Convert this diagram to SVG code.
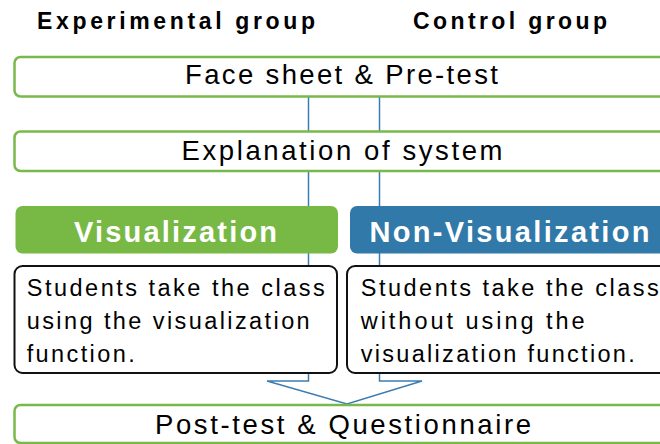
<svg xmlns="http://www.w3.org/2000/svg" width="660" height="444" viewBox="0 0 660 444">
  <style>
    .stage { fill: #ffffff; stroke: #79b84b; stroke-width: 2.5; }
    .desc { fill: #ffffff; stroke: #111111; stroke-width: 2; }
    .head { font-family: "Liberation Sans", Arial, sans-serif; font-weight: bold; font-size: 23px; fill: #000000; }
    .stageText { font-family: "Liberation Sans", Arial, sans-serif; font-size: 27.5px; fill: #000000; }
    .groupText { font-family: "Liberation Sans", Arial, sans-serif; font-weight: bold; font-size: 29px; fill: #ffffff; }
    .descText { font-family: "Liberation Sans", Arial, sans-serif; font-size: 23.5px; fill: #000000; }
    .link { fill: none; stroke: #3b7db3; stroke-width: 1.5; }
  </style>

  <!-- column headings -->
  <g id="heading-experimental">
    <text class="head" x="37" y="28.5" textLength="278" lengthAdjust="spacing">Experimental group</text>
  </g>
  <g id="heading-control">
    <text class="head" x="413" y="28.5" textLength="194" lengthAdjust="spacing">Control group</text>
  </g>

  <!-- flow lines for the two groups -->
  <g id="connectors">
    <line class="link" x1="308.5" y1="96" x2="308.5" y2="373"/>
    <line class="link" x1="379.5" y1="96" x2="379.5" y2="373"/>
    <path class="link" d="M308.5,373 V381 H267 L347,404 L422,381 H379.5 V373"/>
  </g>

  <g id="face-sheet">
    <rect class="stage" x="14.5" y="57" width="660" height="39.5" rx="6"/>
    <text class="stageText" x="185" y="84" textLength="313" lengthAdjust="spacing">Face sheet &amp; Pre-test</text>
  </g>

  <g id="explanation">
    <rect class="stage" x="14.5" y="131.5" width="660" height="39.5" rx="6"/>
    <text class="stageText" x="181.5" y="159.5" textLength="321" lengthAdjust="spacing">Explanation of system</text>
  </g>

  <g id="visualization">
    <rect x="15.5" y="206" width="322.5" height="47.5" rx="7" fill="#78b946"/>
    <text class="groupText" x="74" y="241.5" textLength="203" lengthAdjust="spacing">Visualization</text>
  </g>

  <g id="non-visualization">
    <rect x="350" y="206" width="330" height="47.5" rx="7" fill="#3179a9"/>
    <text class="groupText" x="369.5" y="241.5" textLength="280" lengthAdjust="spacing">Non-Visualization</text>
  </g>

  <g id="class-with-visualization">
    <rect class="desc" x="14.5" y="266" width="322.5" height="107" rx="8"/>
    <text class="descText" x="26.7" y="295.7" textLength="298" lengthAdjust="spacing">Students take the class</text>
    <text class="descText" x="26.7" y="329" textLength="283" lengthAdjust="spacing">using the visualization</text>
    <text class="descText" x="26.7" y="362.3" textLength="108" lengthAdjust="spacing">function.</text>
  </g>

  <g id="class-without-visualization">
    <rect class="desc" x="347" y="266" width="330" height="107" rx="8"/>
    <text class="descText" x="360.7" y="295.7" textLength="298" lengthAdjust="spacing">Students take the class</text>
    <text class="descText" x="360.7" y="329" textLength="224" lengthAdjust="spacing">without using the</text>
    <text class="descText" x="360.7" y="362.3" textLength="274" lengthAdjust="spacing">visualization function.</text>
  </g>

  <g id="post-test">
    <rect class="stage" x="14.5" y="405" width="660" height="38" rx="6"/>
    <text class="stageText" x="155" y="434.3" textLength="376" lengthAdjust="spacing">Post-test &amp; Questionnaire</text>
  </g>
</svg>
